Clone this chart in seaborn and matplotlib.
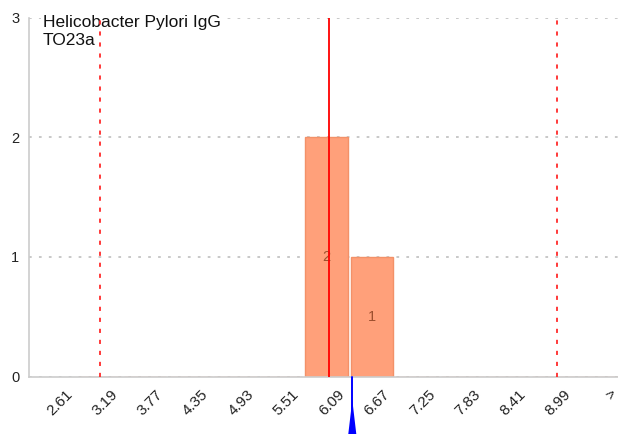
import matplotlib
matplotlib.use("Agg")
import matplotlib.pyplot as plt
import matplotlib.transforms as mtransforms
import seaborn as sns
import numpy as np

# ---- data ----
bin_edges = [2.61, 3.19, 3.77, 4.35, 4.93, 5.51, 6.09, 6.67, 7.25, 7.83, 8.41, 8.99, 9.57]
tick_labels = ["2.61", "3.19", "3.77", "4.35", "4.93", "5.51", "6.09", "6.67",
               "7.25", "7.83", "8.41", "8.99", ">"]
counts = [0, 0, 0, 0, 0, 2, 1, 0, 0, 0, 0, 0]
mean_value = 5.835
lower_limit = 2.905
upper_limit = 8.75
patient_value = 6.13
title_lines = ["Helicobacter Pylori IgG", "TO23a"]
y_ticks = [0, 1, 2, 3]

bin_centers = [(a + b) / 2 for a, b in zip(bin_edges[:-1], bin_edges[1:])]

sns.set_style("white")
plt.rcParams["font.family"] = ["Liberation Sans", "DejaVu Sans"]

W, H = 618, 434
fig = plt.figure(figsize=(W / 100, H / 100), dpi=100)
x_left_px, x_right_px = 29.2, 621.8
y_bot_px, y_top_px = 376.7, 17.6
ax = fig.add_axes([x_left_px / W, (H - y_bot_px) / H,
                   (x_right_px - x_left_px) / W, (y_bot_px - y_top_px) / H])

sns.histplot(x=bin_centers, weights=counts, bins=bin_edges, shrink=0.94,
             color="#FFA07A", edgecolor="#F39168", linewidth=1.0, alpha=1.0,
             ax=ax, zorder=2)

for c, n in zip(bin_centers, counts):
    if n > 0:
        ax.text(c, n / 2, str(n), ha="center", va="center", fontsize=10.5,
                color="#9c4f2e", zorder=3)

ax.set_xlim(2.0, 9.575)
ax.set_ylim(0, 3)
ax.set_yticks(y_ticks)
ax.set_yticklabels([str(v) for v in y_ticks])
ax.set_xticks(bin_edges)
ax.set_xticklabels(tick_labels, rotation=45, ha="right", va="top",
                   rotation_mode="anchor")
ax.set_xlabel("")
ax.set_ylabel("")

ax.yaxis.grid(True, linestyle=(0, (1.5, 4)), color="#c4c4c4", linewidth=1.3, zorder=0)
ax.xaxis.grid(False)
ax.set_axisbelow(True)

for s in ["top", "right"]:
    ax.spines[s].set_visible(False)
for s in ["left", "bottom"]:
    ax.spines[s].set_color("#cccccc")
    ax.spines[s].set_linewidth(1.2)

ax.tick_params(axis="both", direction="in", length=5, width=1, color="#cccccc",
               labelcolor="#222222")
ax.tick_params(axis="y", labelsize=10.5, pad=7)
ax.tick_params(axis="x", labelsize=11, pad=7.5)

shift = mtransforms.ScaledTranslation(-12 / 100, 0, fig.dpi_scale_trans)
for lbl in ax.get_xticklabels():
    lbl.set_transform(lbl.get_transform() + shift)

# title box
ax.text((43 - x_left_px) / (x_right_px - x_left_px), 1 + 3 / (y_bot_px - y_top_px),
        "\n".join(title_lines), transform=ax.transAxes, ha="left", va="top",
        fontsize=12.5, color="#111111", linespacing=1.3, zorder=3,
        bbox=dict(boxstyle="square,pad=0.1", facecolor="white", edgecolor="none"))

# reference lines
ax.axvline(mean_value, color="red", linewidth=1.3, zorder=5)
for v in (lower_limit, upper_limit):
    ax.axvline(v, color="#ff2a2a", linewidth=1.3, linestyle=(0, (2.3, 3.8)), zorder=5)

# patient marker below axis
trans = mtransforms.blended_transform_factory(ax.transData, ax.transAxes)
ax.plot([patient_value, patient_value], [0, -0.25], color="#0000ff", linewidth=1.4,
        transform=trans, clip_on=False, zorder=6)
ax.fill([patient_value - 0.073, patient_value, patient_value + 0.073],
        [-0.2, -0.065, -0.2], color="#0000ff", transform=trans, clip_on=False,
        zorder=6, linewidth=0)

fig.savefig("out.png", dpi=100)
